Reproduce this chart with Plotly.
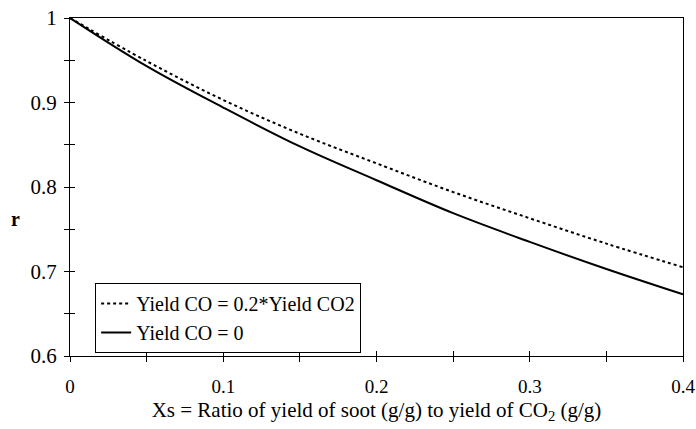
import plotly.graph_objects as go

xs = [0.0, 0.05, 0.1, 0.15, 0.2, 0.25, 0.3, 0.35, 0.4]
r_co02 = [1.0, 0.949, 0.903, 0.863, 0.828, 0.794, 0.763, 0.733, 0.705]
r_co0 = [1.0, 0.943, 0.894, 0.848, 0.808, 0.769, 0.735, 0.703, 0.673]

x_tickvals = [0, 0.05, 0.1, 0.15, 0.2, 0.25, 0.3, 0.35, 0.4]
x_ticktext = ["0", "", "0.1", "", "0.2", "", "0.3", "", "0.4"]
y_tickvals = [0.6, 0.65, 0.7, 0.75, 0.8, 0.85, 0.9, 0.95, 1.0]
y_ticktext = ["0.6", "", "0.7", "", "0.8", "", "0.9", "", "1"]

FONT = "Liberation Serif"

fig = go.Figure()
fig.add_trace(go.Scatter(x=xs, y=r_co02, mode="lines",
                         name="Yield CO = 0.2*Yield CO2",
                         line=dict(color="black", width=2, dash="dot", shape="spline"),
                         legendgroup="a"))
fig.add_trace(go.Scatter(x=xs, y=r_co0, mode="lines", name="Yield CO = 0",
                         line=dict(color="black", width=2, shape="spline"),
                         legendgroup="b"))
# dummy trace so overlay axes (inside ticks) are drawn
fig.add_trace(go.Scatter(x=[None], y=[None], xaxis="x2", yaxis="y2", showlegend=False,
                         hoverinfo="skip"))

axis_common = dict(showgrid=False, zeroline=False, ticklen=5, tickcolor="black",
                   tickwidth=1, automargin=False)
fig.update_layout(
    width=696, height=429,
    margin=dict(l=70, r=13, t=18, b=73, autoexpand=False),
    paper_bgcolor="white", plot_bgcolor="white",
    font=dict(family=FONT, size=18, color="black"),
    xaxis=dict(range=[0, 0.4], tickvals=x_tickvals, ticktext=x_ticktext, ticks="outside",
               showline=True, linecolor="black", linewidth=1, mirror=True,
               tickfont=dict(size=19), ticklabelstandoff=8, **axis_common,
               title=dict(text="Xs = Ratio of yield of soot (g/g) to yield of CO<sub>2</sub> (g/g)",
                          font=dict(size=21), standoff=6)),
    yaxis=dict(range=[0.6, 1.0], tickvals=y_tickvals, ticktext=y_ticktext, ticks="outside",
               showline=True, linecolor="black", linewidth=1, mirror=True,
               tickfont=dict(size=21), ticklabelstandoff=3, **axis_common),
    xaxis2=dict(range=[0, 0.4], tickvals=x_tickvals, ticks="inside", showticklabels=False,
                overlaying="x", showline=False, **axis_common),
    yaxis2=dict(range=[0.6, 1.0], tickvals=y_tickvals, ticks="inside", showticklabels=False,
                overlaying="y", showline=False, **axis_common),
    legend=dict(x=0.041, y=0.216, xanchor="left", yanchor="top",
                bgcolor="white", bordercolor="black", borderwidth=1,
                font=dict(family=FONT, size=20), tracegroupgap=0,
                entrywidth=250, entrywidthmode="pixels"),
    annotations=[dict(text="<b>r</b>", x=(15 - 70) / 613, y=0.762, xref="paper", yref="y",
                      xanchor="center", showarrow=False, font=dict(family=FONT, size=20))],
)

fig.write_html("out.html", config={"displayModeBar": False},
               post_script="document.body.style.margin='0';document.body.style.overflow='hidden';")
